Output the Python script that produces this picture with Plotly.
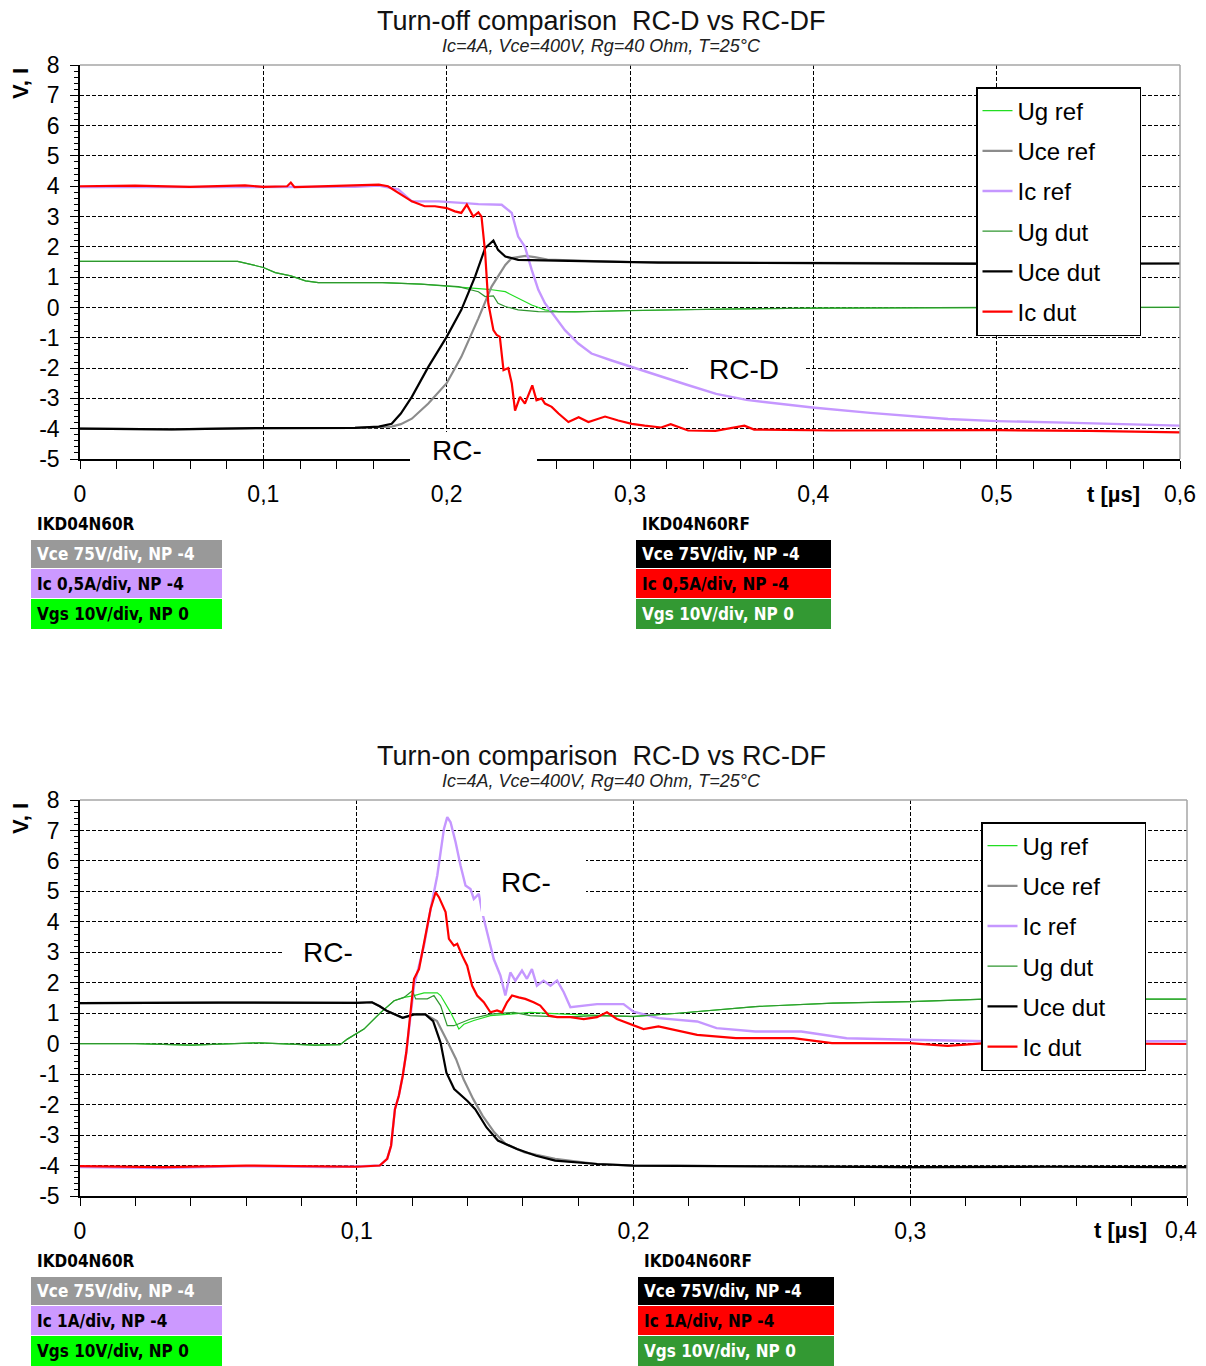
import plotly.graph_objects as go

# Reference canvas size and page offset (the page body adds an 8 px margin)
REF_W, REF_H = 1206, 1366
OFF = 8
W, H = REF_W - OFF, REF_H - OFF

# ---------------- Turn-off data (t in µs) ----------------
off_ug_ref_t = [0, 0.086, 0.1, 0.1065, 0.115, 0.123, 0.13, 0.165, 0.186, 0.2, 0.208, 0.2227, 0.232, 0.239,
                0.2464, 0.2536, 0.261, 0.272, 0.3, 0.35, 0.4, 0.5, 0.6]
off_ug_ref = [1.52, 1.52, 1.32, 1.15, 1.04, 0.88, 0.82, 0.82, 0.77, 0.71, 0.66, 0.6, 0.52, 0.3,
              0.08, -0.08, -0.14, -0.14, -0.1, -0.05, -0.02, 0.0, 0.0]

off_uce_ref_t = [0, 0.05, 0.1, 0.15, 0.165, 0.17, 0.175, 0.181, 0.19, 0.2, 0.208, 0.2173, 0.2245, 0.232,
                 0.2355, 0.243, 0.248, 0.255, 0.28, 0.3, 0.4, 0.5, 0.6]
off_uce_ref = [-4.0, -4.02, -3.98, -3.97, -3.94, -3.93, -3.85, -3.67, -3.17, -2.5, -1.63, -0.36, 0.69, 1.4,
               1.63, 1.7, 1.66, 1.58, 1.53, 1.5, 1.47, 1.46, 1.45]

off_ic_ref_t = [0, 0.05, 0.1, 0.15, 0.163, 0.1736, 0.181, 0.1955, 0.208, 0.2173, 0.23, 0.2355, 0.239, 0.2427,
                0.2464, 0.25, 0.2536, 0.259, 0.2645, 0.2718, 0.279, 0.29, 0.3, 0.316, 0.331, 0.347, 0.3635,
                0.3995, 0.431, 0.4735, 0.5, 0.537, 0.6]
off_ic_ref = [3.97, 3.98, 3.97, 3.98, 4.02, 3.9, 3.5, 3.5, 3.45, 3.41, 3.39, 3.12, 2.34, 2.0,
              1.24, 0.58, 0.14, -0.3, -0.75, -1.19, -1.52, -1.75, -1.95, -2.25, -2.55, -2.85, -3.05,
              -3.3, -3.48, -3.68, -3.75, -3.8, -3.9]

off_ug_dut_t = [0, 0.086, 0.1, 0.1065, 0.115, 0.123, 0.13, 0.165, 0.186, 0.2, 0.2064, 0.2173, 0.221, 0.2255,
                0.228, 0.232, 0.239, 0.25, 0.27, 0.3, 0.35, 0.4, 0.5, 0.6]
off_ug_dut = [1.52, 1.52, 1.32, 1.15, 1.04, 0.88, 0.82, 0.82, 0.77, 0.71, 0.69, 0.52, 0.36, 0.38,
              0.14, 0.03, -0.08, -0.14, -0.15, -0.1, -0.05, -0.02, 0.0, 0.0]

off_uce_dut_t = [0, 0.05, 0.1, 0.15, 0.163, 0.17, 0.175, 0.181, 0.19, 0.2, 0.208, 0.2155, 0.221, 0.2255,
                 0.228, 0.232, 0.239, 0.2536, 0.2755, 0.3155, 0.4, 0.5, 0.6]
off_uce_dut = [-4.0, -4.02, -3.98, -3.97, -3.93, -3.84, -3.5, -2.95, -1.96, -0.97, -0.08, 1.02, 1.96, 2.21,
               1.9, 1.68, 1.57, 1.55, 1.52, 1.48, 1.46, 1.44, 1.45]

off_ic_dut_t = [0, 0.03, 0.06, 0.09, 0.1, 0.113, 0.115, 0.117, 0.14, 0.163, 0.168, 0.1736, 0.181, 0.188,
                0.1936, 0.2, 0.2045, 0.208, 0.211, 0.2145, 0.2173, 0.219, 0.221, 0.2227, 0.2255, 0.2273,
                0.229, 0.231, 0.2336, 0.2355, 0.2373, 0.24, 0.2427, 0.2467, 0.249, 0.2518, 0.2536, 0.2573,
                0.261, 0.2664, 0.272, 0.2773, 0.2864, 0.2936, 0.301, 0.308, 0.317, 0.3222, 0.3317, 0.3466,
                0.3624, 0.3677, 0.41, 0.5, 0.55, 0.6]
off_ic_dut = [4.0, 4.02, 3.98, 4.03, 3.98, 4.0, 4.12, 3.97, 4.01, 4.05, 4.0, 3.78, 3.5, 3.34,
              3.34, 3.28, 3.17, 3.12, 3.39, 3.0, 3.14, 3.0, 1.8, 0.14, -0.75, -0.91,
              -0.97, -2.07, -2.0, -2.5, -3.4, -2.95, -3.17, -2.57, -3.06, -3.0, -3.17, -3.28,
              -3.5, -3.78, -3.62, -3.78, -3.6, -3.73, -3.84, -3.9, -3.96, -3.85, -4.06, -4.07,
              -3.9, -4.03, -4.06, -4.05, -4.07, -4.12]

# ---------------- Turn-on data (t in µs) ----------------
on_ug_ref_t = [0, 0.02, 0.04, 0.065, 0.085, 0.094, 0.0966, 0.1026, 0.1087, 0.1135, 0.1171, 0.1207, 0.1243,
               0.1291, 0.1303, 0.1339, 0.1369, 0.1387, 0.1423, 0.1483, 0.1555, 0.1627, 0.1748, 0.2, 0.216,
               0.244, 0.272, 0.3, 0.327, 0.4]
on_ug_ref = [0, 0, -0.05, 0.03, -0.05, -0.03, 0.15, 0.48, 1.03, 1.41, 1.52, 1.58, 1.67,
             1.67, 1.58, 1.03, 0.48, 0.64, 0.76, 0.92, 0.97, 1.03, 0.97, 0.89, 1.0,
             1.22, 1.33, 1.38, 1.46, 1.46]

on_uce_ref_t = [0, 0.05, 0.1, 0.1055, 0.1083, 0.111, 0.1166, 0.1207, 0.1248, 0.129, 0.1324, 0.1359, 0.1386,
                0.1421, 0.1455, 0.1497, 0.1538, 0.1607, 0.1717, 0.1869, 0.2, 0.25, 0.3, 0.35, 0.4]
on_uce_ref = [1.33, 1.35, 1.34, 1.36, 1.23, 1.07, 0.85, 0.96, 0.96, 0.74, 0.14, -0.51, -1.17,
              -1.82, -2.37, -2.91, -3.29, -3.57, -3.78, -3.95, -4.0, -4.03, -4.05, -4.04, -4.05]

on_ic_ref_t = [0, 0.03, 0.06, 0.09, 0.1, 0.1083, 0.111, 0.1124, 0.1138, 0.1152, 0.1166, 0.1179, 0.1207,
               0.1243, 0.1267, 0.1291, 0.1315, 0.1327, 0.1339, 0.1357, 0.1375, 0.1393, 0.1411, 0.1423,
               0.1441, 0.1453, 0.1471, 0.1495, 0.1519, 0.1537, 0.1555, 0.1573, 0.1597, 0.1615, 0.1633,
               0.1651, 0.1675, 0.17, 0.1724, 0.1748, 0.1772, 0.182, 0.1868, 0.1964, 0.2, 0.209, 0.223,
               0.23, 0.244, 0.2606, 0.277, 0.2996, 0.3274, 0.4]
on_ic_ref = [-4.05, -4.08, -4.02, -4.05, -4.03, -4.0, -3.78, -3.35, -2.15, -1.71, -1.06, -0.29, 1.9,
             3.22, 4.43, 5.52, 7.05, 7.44, 7.27, 6.62, 5.85, 5.19, 5.08, 4.75,
             4.92, 4.32, 3.66, 2.78, 2.24, 1.58, 2.34, 2.07, 2.4, 2.13, 2.45,
             1.9, 2.07, 1.9, 2.07, 1.69, 1.2, 1.25, 1.3, 1.3, 1.05, 0.84, 0.73,
             0.51, 0.4, 0.4, 0.18, 0.13, 0.08, 0.08]

on_ug_dut_t = [0, 0.02, 0.04, 0.065, 0.085, 0.094, 0.0966, 0.1026, 0.1087, 0.1135, 0.1171, 0.1201, 0.1213,
               0.1255, 0.1279, 0.1303, 0.1327, 0.1351, 0.1411, 0.1483, 0.1567, 0.1627, 0.1748, 0.1868, 0.2,
               0.216, 0.244, 0.272, 0.3, 0.327, 0.4]
on_ug_dut = [0, 0, -0.05, 0.03, -0.05, -0.03, 0.15, 0.48, 1.03, 1.41, 1.52, 1.74, 1.47,
             1.47, 1.58, 1.25, 0.59, 0.59, 0.81, 0.97, 1.03, 0.92, 0.87, 0.92, 0.9,
             1.0, 1.22, 1.33, 1.38, 1.46, 1.46]

on_uce_dut_t = [0, 0.05, 0.1, 0.1055, 0.1083, 0.111, 0.1166, 0.1207, 0.1248, 0.1276, 0.1303, 0.1324, 0.1352,
                0.14, 0.1428, 0.1469, 0.151, 0.1579, 0.1648, 0.1717, 0.1869, 0.2, 0.25, 0.3, 0.35, 0.4]
on_uce_dut = [1.33, 1.35, 1.34, 1.36, 1.23, 1.07, 0.85, 0.96, 0.96, 0.74, 0.03, -0.95, -1.49,
              -1.88, -2.15, -2.75, -3.18, -3.46, -3.68, -3.84, -3.95, -4.0, -4.03, -4.05, -4.04, -4.05]

on_ic_dut_t = [0, 0.03, 0.06, 0.09, 0.1, 0.1083, 0.111, 0.1124, 0.1138, 0.1152, 0.1166, 0.1179, 0.1195,
               0.1207, 0.1225, 0.1243, 0.1267, 0.1285, 0.1297, 0.1321, 0.1333, 0.1351, 0.1363, 0.1381,
               0.1399, 0.1417, 0.1435, 0.1459, 0.1483, 0.1507, 0.1525, 0.1543, 0.1561, 0.1585, 0.1609,
               0.1639, 0.1663, 0.1694, 0.1724, 0.1772, 0.182, 0.1868, 0.1904, 0.194, 0.1988, 0.2036,
               0.209, 0.223, 0.237, 0.2578, 0.2717, 0.2996, 0.3135, 0.3274, 0.4]
on_ic_dut = [-4.02, -4.05, -4.0, -4.03, -4.04, -4.0, -3.78, -3.35, -2.15, -1.71, -1.06, -0.29, 1.03,
             2.13, 2.45, 3.33, 4.43, 4.97, 4.81, 4.32, 3.44, 3.22, 3.28, 2.89,
             2.56, 1.9, 1.58, 1.36, 1.03, 1.09, 1.03, 1.36, 1.58, 1.52, 1.47,
             1.36, 1.25, 0.92, 0.87, 0.87, 0.81, 0.87, 1.03, 0.81, 0.65, 0.48,
             0.57, 0.29, 0.18, 0.18, 0.02, 0.02, -0.07, 0.02, -0.01]

series_names = ["Ug ref", "Uce ref", "Ic ref", "Ug dut", "Uce dut", "Ic dut"]
off_series = [(off_ug_ref_t, off_ug_ref), (off_uce_ref_t, off_uce_ref), (off_ic_ref_t, off_ic_ref),
              (off_ug_dut_t, off_ug_dut), (off_uce_dut_t, off_uce_dut), (off_ic_dut_t, off_ic_dut)]
on_series = [(on_ug_ref_t, on_ug_ref), (on_uce_ref_t, on_uce_ref), (on_ic_ref_t, on_ic_ref),
             (on_ug_dut_t, on_ug_dut), (on_uce_dut_t, on_uce_dut), (on_ic_dut_t, on_ic_dut)]

titles = ["Turn-off comparison \u00a0RC-D vs RC-DF", "Turn-on comparison \u00a0RC-D vs RC-DF"]
subtitle = "Ic=4A, Vce=400V, Rg=40 Ohm, T=25°C"
ic_scales = ["Ic 0,5A/div, NP -4", "Ic 1A/div, NP -4"]
y_ticks = list(range(-5, 9))
y_ticktext = [str(v) for v in y_ticks]  # plain hyphen minus, as in the original
x_ticks_off = [0, 0.1, 0.2, 0.3, 0.4, 0.5, 0.6]
x_ticktext_off = ["0", "0,1", "0,2", "0,3", "0,4", "0,5", "0,6"]
x_ticks_on = [0, 0.1, 0.2, 0.3, 0.4]
x_ticktext_on = ["0", "0,1", "0,2", "0,3", ""]   # last label drawn separately, nudged inside the page
last_label_on = "0,4"

COLORS = ["#22dd22", "#8c8c8c", "#c597ff", "#2f962f", "#000000", "#ff0000"]
WIDTHS = [1.2, 2.2, 2.4, 1.2, 2.2, 2.2]

FONT = "Liberation Sans, Arial, sans-serif"
NARROW = "Liberation Sans Narrow, Arial Narrow, DejaVu Sans Condensed, sans-serif"
PAD = "\u00a0" * 5   # widens the legend box like the original


def px(x):
    return (x - OFF) / W


def py(y):
    return 1 - (y - OFF) / H


fig = go.Figure()
for k, series in enumerate([off_series, on_series]):
    xa, ya = ("x", "y") if k == 0 else ("x2", "y2")
    lg = "legend" if k == 0 else "legend2"
    for i, (t, v) in enumerate(series):
        fig.add_trace(go.Scatter(
            x=t, y=v, mode="lines", name=series_names[i] + PAD,
            line=dict(color=COLORS[i], width=WIDTHS[i]),
            xaxis=xa, yaxis=ya, legend=lg, legendgroup=f"{k}_{i}",
            hoverinfo="skip"))


def xcfg(domain, rng, anchor, tickvals, ticktext):
    return dict(domain=domain, range=rng, anchor=anchor, tickmode="array", tickvals=tickvals,
                ticktext=ticktext,
                showline=True, linecolor="black", linewidth=1.5,
                ticks="outside", ticklen=8, tickwidth=1, tickcolor="black",
                minor=dict(tickmode="linear", tick0=0, dtick=0.02, ticks="outside", ticklen=8,
                           tickwidth=1, tickcolor="black", showgrid=False),
                showgrid=True, gridcolor="black", gridwidth=1, griddash="4px,2px",
                zeroline=False, tickfont=dict(family=FONT, size=23, color="black"),
                ticklabelstandoff=6, fixedrange=True)


def ycfg(domain, anchor):
    return dict(domain=domain, range=[-5, 8], anchor=anchor, tickmode="array",
                tickvals=y_ticks, ticktext=y_ticktext,
                showline=True, linecolor="black", linewidth=1.5,
                ticks="outside", ticklen=8, tickwidth=1, tickcolor="black",
                minor=dict(tickmode="linear", tick0=0, dtick=0.2, ticks="outside", ticklen=4,
                           tickwidth=1, tickcolor="black", showgrid=False),
                showgrid=True, gridcolor="black", gridwidth=1, griddash="4px,2px",
                zeroline=False, tickfont=dict(family=FONT, size=23, color="black"),
                ticklabelstandoff=6, fixedrange=True)


legend_common = dict(xanchor="left", yanchor="top", bgcolor="white", bordercolor="black", borderwidth=1.5,
                     font=dict(family=FONT, size=24, color="black"), tracegroupgap=6,
                     itemwidth=30, traceorder="grouped")

fig.update_layout(
    width=W, height=H, margin=dict(l=0, r=0, t=0, b=0, autoexpand=False),
    paper_bgcolor="white", plot_bgcolor="white",
    separators=",.",
    xaxis=xcfg([px(80), px(1180)], [0, 0.6], "y", x_ticks_off, x_ticktext_off),
    yaxis=ycfg([py(459), py(65)], "x"),
    xaxis2=xcfg([px(80), px(1187)], [0, 0.4], "y2", x_ticks_on, x_ticktext_on),
    yaxis2=ycfg([py(1196), py(800)], "x2"),
    legend=dict(x=px(976), y=py(87), **legend_common),
    legend2=dict(x=px(981), y=py(822), **legend_common),
    showlegend=True,
)

shapes = []
annotations = []


def rect(x0, y0, x1, y1, color):
    shapes.append(dict(type="rect", xref="paper", yref="paper", x0=px(x0), x1=px(x1), y0=py(y1), y1=py(y0),
                       fillcolor=color, line=dict(width=0, color=color), layer="above"))


def line(x0, y0, x1, y1, color, width=1.5):
    shapes.append(dict(type="line", xref="paper", yref="paper", x0=px(x0), x1=px(x1), y0=py(y0), y1=py(y1),
                       line=dict(color=color, width=width), layer="above"))


def text(x, y, s, size, color="black", family=FONT, xanchor="center", angle=0, pad=1):
    annotations.append(dict(xref="paper", yref="paper", x=px(x), y=py(y), text=s, showarrow=False,
                            xanchor=xanchor, yanchor="middle", textangle=angle, borderpad=pad,
                            font=dict(family=family, size=size, color=color)))


for k in range(2):
    dy = 0 if k == 0 else 735
    right = 1180 if k == 0 else 1187
    top, bottom = (65, 459) if k == 0 else (800, 1196)
    # chart frame (top/right, grey)
    line(80, top, right, top, "#a6a6a6", 1.5)
    line(right, top, right, bottom, "#a6a6a6", 1.5)
    # titles
    text(601, 21 + dy, titles[k], 27, "#111111", pad=0)
    text(601, 46 + dy, "<i>" + subtitle + "</i>", 18, "#222222", pad=0)
    text(20, 84 + dy, "<b>V, I</b>", 22, "black", angle=-90)
    text(1113 if k == 0 else 1120, 494 if k == 0 else 1230, "<b>t [µs]</b>", 22, "black")

    # device label blocks
    by = 540 if k == 0 else 1277
    lx0, lx1 = 31, 222
    rx0, rx1 = (636, 831) if k == 0 else (638, 834)
    text(35, by - 16, "<b>IKD04N60R</b>", 17, "black", NARROW, "left")
    text(rx0 + 4, by - 16, "<b>IKD04N60RF</b>", 17, "black", NARROW, "left")
    rows = [(by, by + 28), (by + 29, by + 58), (by + 59, by + 89)]
    left_cols = [("#999999", "white"), ("#cc99ff", "black"), ("#00ff00", "black")]
    right_cols = [("#000000", "white"), ("#ff0000", "black"), ("#339933", "white")]
    labels = ["Vce 75V/div, NP -4", ic_scales[k], "Vgs 10V/div, NP 0"]
    for (y0, y1), (lc, lt), (rc, rt), lab in zip(rows, left_cols, right_cols, labels):
        rect(lx0, y0, lx1, y1, lc)
        rect(rx0, y0, rx1, y1, rc)
        text(lx0 + 4, (y0 + y1) / 2, "<b>" + lab + "</b>", 17, lt, NARROW, "left")
        text(rx0 + 4, (y0 + y1) / 2, "<b>" + lab + "</b>", 17, rt, NARROW, "left")

# last tick label of the turn-on chart
text(1181, 1230, last_label_on, 23, "black")

# text boxes "RC-..." partially hidden in the original
rect(688, 352, 805, 381, "white")
text(744, 370, "RC-D", 28, "black")
rect(410, 432, 537, 470, "white")
text(457, 451, "RC-", 28, "black")
rect(283, 923, 412, 982, "white")
text(328, 952, "RC-", 28, "black")
rect(481, 842, 586, 916, "white")
text(526, 882, "RC-", 28, "black")

fig.update_layout(shapes=shapes, annotations=annotations)
fig.write_html("out.html")
